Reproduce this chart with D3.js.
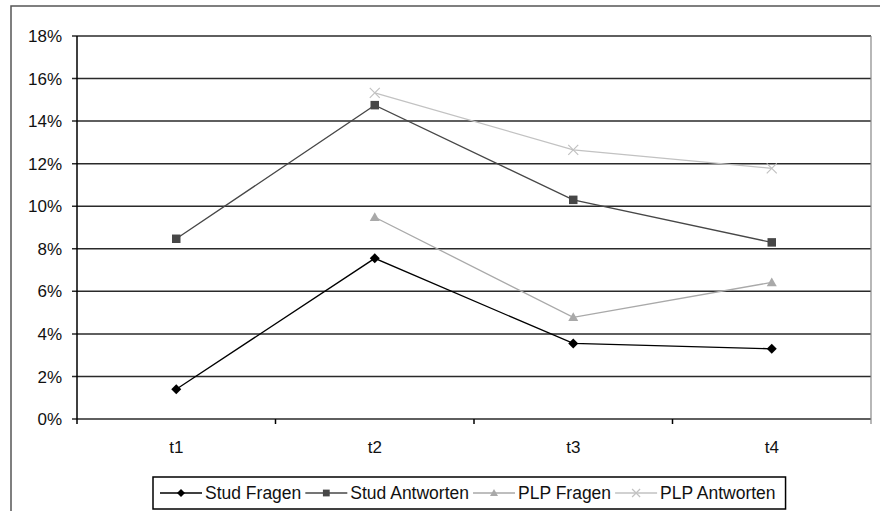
<!DOCTYPE html>
<html>
<head>
<meta charset="utf-8">
<script src="https://cdn.jsdelivr.net/npm/d3@7"></script>
<style>
  body { margin: 0; background: #fff; }
  svg text { font-family: "Liberation Sans", Arial, sans-serif; fill: #111; }
</style>
</head>
<body>
<svg id="chart" width="880" height="511"></svg>
<script>
// data
var categories = ["t1", "t2", "t3", "t4"];
var seriesNames = ["Stud Fragen", "Stud Antworten", "PLP Fragen", "PLP Antworten"];
var studFragen = [1.4, 7.55, 3.55, 3.3];
var studAntworten = [8.47, 14.75, 10.3, 8.3];
var plpFragen = [null, 9.48, 4.78, 6.42];
var plpAntworten = [null, 15.33, 12.65, 11.78];
var yTicks = [0, 2, 4, 6, 8, 10, 12, 14, 16, 18];

var seriesValues = [studFragen, studAntworten, plpFragen, plpAntworten];
var colors = ["#000000", "#474747", "#a9a9a9", "#c2c2c2"];
var symbols = ["diamond", "square", "triangle", "x"];

(function() {
  var svg = d3.select("#chart");

  // outer chart border (runs off the right and bottom edge)
  svg.append("rect")
    .attr("x", 11).attr("y", 6)
    .attr("width", 900).attr("height", 520)
    .attr("fill", "none").attr("stroke", "#555").attr("stroke-width", 1.5);

  var pLeft = 77, pRight = 871, pTop = 36, pBottom = 419;

  var x = d3.scaleBand().domain(categories).range([pLeft, pRight]);
  var y = d3.scaleLinear().domain([0, 18]).range([pBottom, pTop]);

  // gridlines
  svg.append("g")
    .selectAll("line")
    .data(yTicks)
    .enter()
    .append("line")
    .attr("x1", pLeft - 5).attr("x2", pRight)
    .attr("y1", d => y(d)).attr("y2", d => y(d))
    .attr("stroke", "#2a2a2a").attr("stroke-width", 1.5);

  // plot right edge
  svg.append("line")
    .attr("x1", pRight).attr("x2", pRight)
    .attr("y1", pTop).attr("y2", pBottom + 5)
    .attr("stroke", "#888").attr("stroke-width", 1.2);

  // y axis
  svg.append("line")
    .attr("x1", pLeft).attr("x2", pLeft)
    .attr("y1", pTop).attr("y2", pBottom + 5)
    .attr("stroke", "#000").attr("stroke-width", 1.5);

  svg.append("g")
    .selectAll("text")
    .data(yTicks)
    .enter()
    .append("text")
    .attr("x", 62)
    .attr("y", d => y(d))
    .attr("dy", "0.36em")
    .attr("text-anchor", "end")
    .attr("font-size", 17)
    .text(d => d + "%");

  // x axis category separators
  var bounds = categories.map(c => x(c)).concat([pRight]);
  svg.append("g")
    .selectAll("line")
    .data(bounds.slice(1, 4))
    .enter()
    .append("line")
    .attr("x1", d => d).attr("x2", d => d)
    .attr("y1", pBottom).attr("y2", pBottom + 5)
    .attr("stroke", "#000").attr("stroke-width", 1.5);

  svg.append("g")
    .selectAll("text")
    .data(categories)
    .enter()
    .append("text")
    .attr("x", d => x(d) + x.bandwidth() / 2)
    .attr("y", 453)
    .attr("text-anchor", "middle")
    .attr("font-size", 17)
    .text(d => d);

  // series
  var line = d3.line()
    .defined(d => d.v != null)
    .x(d => x(d.c) + x.bandwidth() / 2)
    .y(d => y(d.v));

  // marker glyphs, r = half size
  function marker(g, i, r) {
    var s = symbols[i], p;
    if (s == "x") {
      p = "M" + -r + "," + -r + "L" + r + "," + r + "M" + -r + "," + r + "L" + r + "," + -r;
      g.append("path").attr("d", p)
        .attr("fill", "none").attr("stroke", colors[i]).attr("stroke-width", 1.2);
      return;
    }
    if (s == "diamond") p = "M0," + -r + "L" + r + ",0L0," + r + "L" + -r + ",0Z";
    if (s == "square") p = "M" + -r * 0.85 + "," + -r * 0.85 + "h" + r * 1.7 + "v" + r * 1.7 + "h" + -r * 1.7 + "Z";
    if (s == "triangle") p = "M0," + -r + "L" + r + "," + r * 0.75 + "L" + -r + "," + r * 0.75 + "Z";
    g.append("path").attr("d", p).attr("fill", colors[i]);
  }

  seriesValues.forEach(function(vals, i) {
    var pts = vals.map((v, j) => ({c: categories[j], v: v}));
    svg.append("path")
      .datum(pts)
      .attr("d", line)
      .attr("fill", "none")
      .attr("stroke", colors[i])
      .attr("stroke-width", 1.3);
    svg.append("g")
      .selectAll("g")
      .data(pts.filter(d => d.v != null))
      .enter()
      .append("g")
      .attr("transform", d => "translate(" + (x(d.c) + x.bandwidth() / 2) + "," + y(d.v) + ")")
      .each(function() { marker(d3.select(this), i, 5); });
  });

  // legend
  var legend = svg.append("g");
  var lx = 160, ly = 493;
  seriesNames.forEach(function(name, i) {
    var g = legend.append("g").attr("transform", "translate(" + lx + "," + ly + ")");
    g.append("line")
      .attr("x1", 0).attr("x2", 42)
      .attr("y1", 0).attr("y2", 0)
      .attr("stroke", colors[i]).attr("stroke-width", 1.3);
    var m = g.append("g").attr("transform", "translate(21,0)");
    marker(m, i, 4);
    var t = g.append("text")
      .attr("x", 45).attr("y", 0)
      .attr("dy", "0.36em")
      .attr("font-size", 17.5)
      .text(name);
    lx += 45 + t.node().getComputedTextLength() + 4;
  });

  legend.insert("rect", ":first-child")
    .attr("x", 153).attr("y", 477)
    .attr("width", lx - 153 + 6).attr("height", 32)
    .attr("fill", "#fff").attr("stroke", "#000").attr("stroke-width", 1.5);
})();
</script>
</body>
</html>
